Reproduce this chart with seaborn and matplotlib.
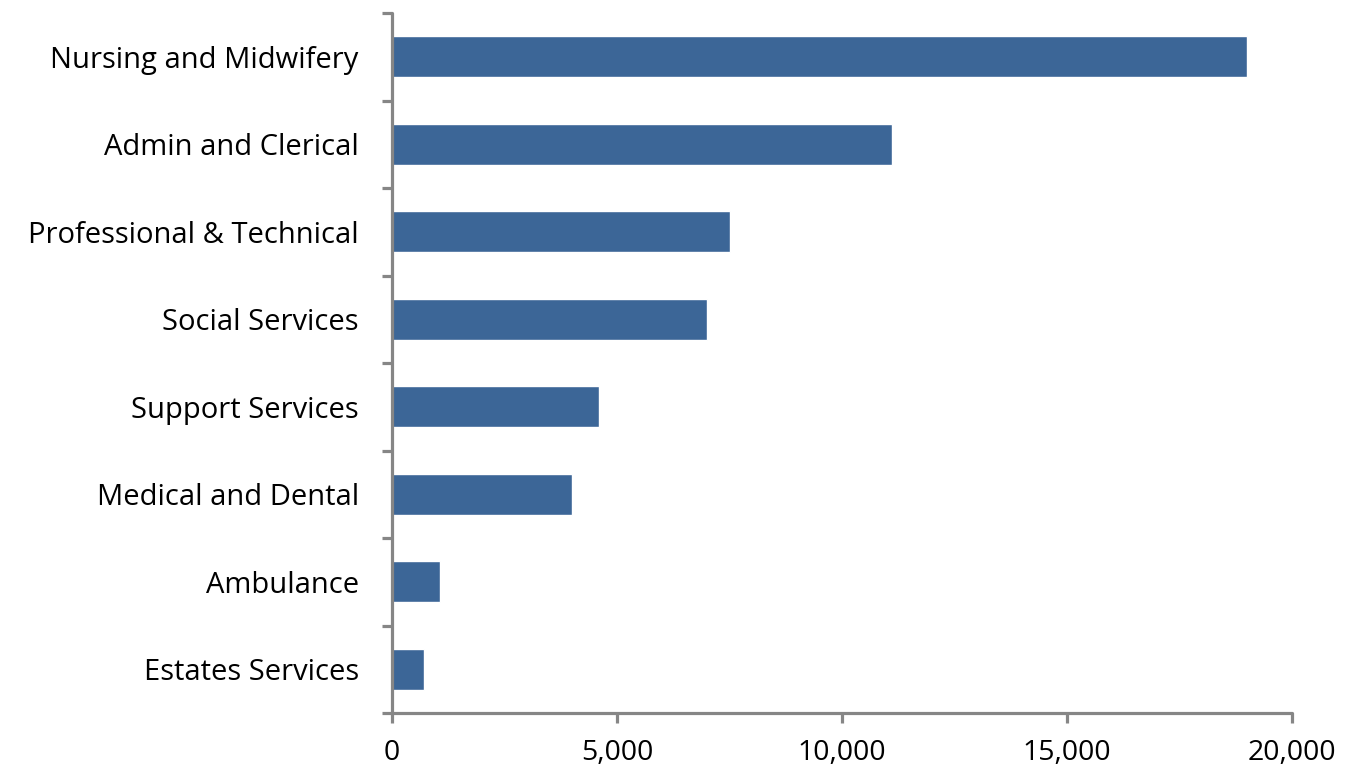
import matplotlib
matplotlib.use("Agg")
import matplotlib.pyplot as plt
import seaborn as sns
import pandas as pd
import numpy as np
from matplotlib.ticker import FixedLocator, FuncFormatter

# Staff group headcounts
categories = [
    "Nursing and Midwifery",
    "Admin and Clerical",
    "Professional & Technical",
    "Social Services",
    "Support Services",
    "Medical and Dental",
    "Ambulance",
    "Estates Services",
]
headcount = [19000, 11100, 7500, 7000, 4600, 4000, 1070, 700]
x_ticks = [0, 5000, 10000, 15000, 20000]

sns.set_theme(style="white")
plt.rcParams["font.family"] = ["Open Sans", "DejaVu Sans"]

df = pd.DataFrame({"group": categories, "count": headcount})

fig = plt.figure(figsize=(13.45, 7.66), dpi=100)
ax = fig.add_axes([392 / 1345, 1 - 713 / 766, 900 / 1345, 700 / 766])

bar_color = "#3C6697"
sns.barplot(data=df, x="count", y="group", orient="h", color=bar_color,
            width=0.47, saturation=1, ax=ax)

ax.set_xlim(0, 20000)
ax.set_ylim(len(categories) - 0.5, -0.5)
ax.set_xlabel("")
ax.set_ylabel("")

spine_color = "#868686"
for side in ["top", "right"]:
    ax.spines[side].set_visible(False)
for side in ["left", "bottom"]:
    ax.spines[side].set_color(spine_color)
    ax.spines[side].set_linewidth(2.3)
    ax.spines[side].set_capstyle("round")

ax.xaxis.set_major_locator(FixedLocator(x_ticks))
ax.xaxis.set_major_formatter(FuncFormatter(lambda v, p: f"{int(v):,}"))
ax.tick_params(axis="x", which="major", direction="out", length=7.5, width=2.3,
               color=spine_color, labelsize=20.5, labelcolor="black", pad=11, bottom=True)

# category boundaries carry the tick marks on the vertical axis
ax.yaxis.set_minor_locator(FixedLocator(np.arange(-0.5, len(categories) + 0.5, 1)))
ax.tick_params(axis="y", which="minor", direction="out", length=7.5, width=2.3,
               color=spine_color, left=True)
ax.tick_params(axis="y", which="major", length=0, labelsize=21,
               labelcolor="black", pad=24)

fig.savefig("out.png", dpi=100, facecolor="white")
